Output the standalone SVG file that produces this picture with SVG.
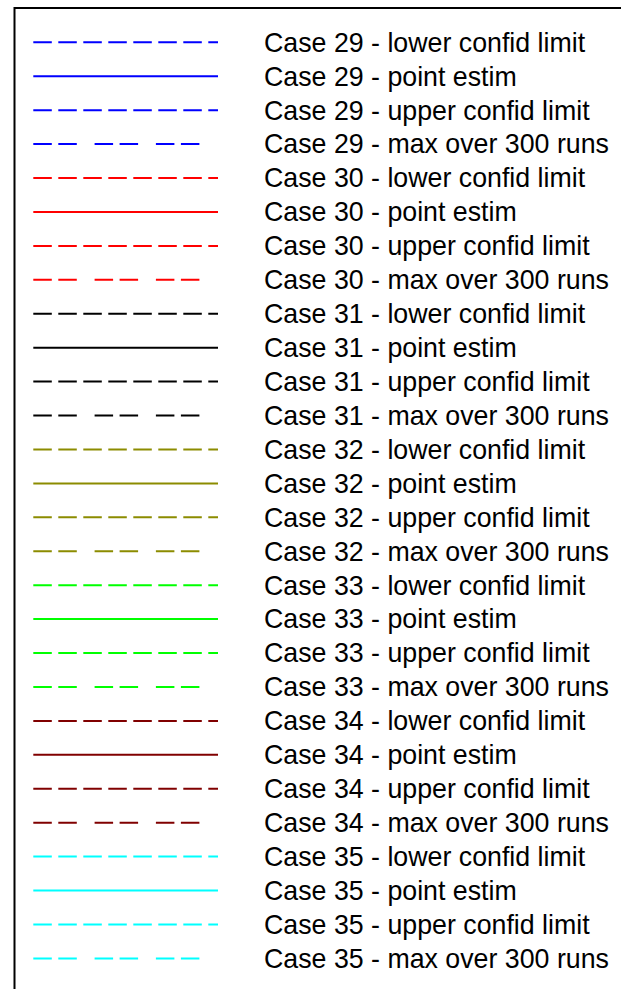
<svg xmlns="http://www.w3.org/2000/svg" width="621" height="989" viewBox="0 0 621 989">
<style>
text{font-family:"Liberation Sans",Arial,sans-serif;font-size:26.75px;fill:#000}
line{stroke-width:2;fill:none}
.ci{stroke-dasharray:18.5 6.5}
.mx{stroke-dasharray:18.5 6.5 18.5 17.8}
.c29{stroke:#0000ff}.c30{stroke:#ff0000}.c31{stroke:#000000}.c32{stroke:#8c8c00}.c33{stroke:#00ff00}.c34{stroke:#800000}.c35{stroke:#00ffff}
</style>
<rect width="621" height="989" fill="#fff"/>
<path id="frame" d="M14.5,989 V8 H621" fill="none" stroke="#000" stroke-width="2"/>
<g id="connectors"></g>
<g id="e29l"><line class="c29 ci" x1="33.3" y1="42.3" x2="218" y2="42.3"/><text x="264" y="51.6">Case 29 - lower confid limit</text></g>
<g id="e29p"><line class="c29" x1="33.3" y1="76.2" x2="218" y2="76.2"/><text x="264" y="85.5">Case 29 - point estim</text></g>
<g id="e29u"><line class="c29 ci" x1="33.3" y1="110.2" x2="218" y2="110.2"/><text x="264" y="119.5">Case 29 - upper confid limit</text></g>
<g id="e29m"><line class="c29 mx" x1="33.3" y1="144.1" x2="216" y2="144.1"/><text x="264" y="153.4">Case 29 - max over 300 runs</text></g>
<g id="e30l"><line class="c30 ci" x1="33.3" y1="178" x2="218" y2="178"/><text x="264" y="187.3">Case 30 - lower confid limit</text></g>
<g id="e30p"><line class="c30" x1="33.3" y1="212" x2="218" y2="212"/><text x="264" y="221.3">Case 30 - point estim</text></g>
<g id="e30u"><line class="c30 ci" x1="33.3" y1="245.9" x2="218" y2="245.9"/><text x="264" y="255.2">Case 30 - upper confid limit</text></g>
<g id="e30m"><line class="c30 mx" x1="33.3" y1="279.8" x2="216" y2="279.8"/><text x="264" y="289.1">Case 30 - max over 300 runs</text></g>
<g id="e31l"><line class="c31 ci" x1="33.3" y1="313.7" x2="218" y2="313.7"/><text x="264" y="323">Case 31 - lower confid limit</text></g>
<g id="e31p"><line class="c31" x1="33.3" y1="347.7" x2="218" y2="347.7"/><text x="264" y="357">Case 31 - point estim</text></g>
<g id="e31u"><line class="c31 ci" x1="33.3" y1="381.6" x2="218" y2="381.6"/><text x="264" y="390.9">Case 31 - upper confid limit</text></g>
<g id="e31m"><line class="c31 mx" x1="33.3" y1="415.5" x2="216" y2="415.5"/><text x="264" y="424.8">Case 31 - max over 300 runs</text></g>
<g id="e32l"><line class="c32 ci" x1="33.3" y1="449.5" x2="218" y2="449.5"/><text x="264" y="458.8">Case 32 - lower confid limit</text></g>
<g id="e32p"><line class="c32" x1="33.3" y1="483.4" x2="218" y2="483.4"/><text x="264" y="492.7">Case 32 - point estim</text></g>
<g id="e32u"><line class="c32 ci" x1="33.3" y1="517.3" x2="218" y2="517.3"/><text x="264" y="526.6">Case 32 - upper confid limit</text></g>
<g id="e32m"><line class="c32 mx" x1="33.3" y1="551.3" x2="216" y2="551.3"/><text x="264" y="560.6">Case 32 - max over 300 runs</text></g>
<g id="e33l"><line class="c33 ci" x1="33.3" y1="585.2" x2="218" y2="585.2"/><text x="264" y="594.5">Case 33 - lower confid limit</text></g>
<g id="e33p"><line class="c33" x1="33.3" y1="619.1" x2="218" y2="619.1"/><text x="264" y="628.4">Case 33 - point estim</text></g>
<g id="e33u"><line class="c33 ci" x1="33.3" y1="653" x2="218" y2="653"/><text x="264" y="662.3">Case 33 - upper confid limit</text></g>
<g id="e33m"><line class="c33 mx" x1="33.3" y1="687" x2="216" y2="687"/><text x="264" y="696.3">Case 33 - max over 300 runs</text></g>
<g id="e34l"><line class="c34 ci" x1="33.3" y1="720.9" x2="218" y2="720.9"/><text x="264" y="730.2">Case 34 - lower confid limit</text></g>
<g id="e34p"><line class="c34" x1="33.3" y1="754.8" x2="218" y2="754.8"/><text x="264" y="764.1">Case 34 - point estim</text></g>
<g id="e34u"><line class="c34 ci" x1="33.3" y1="788.8" x2="218" y2="788.8"/><text x="264" y="798.1">Case 34 - upper confid limit</text></g>
<g id="e34m"><line class="c34 mx" x1="33.3" y1="822.7" x2="216" y2="822.7"/><text x="264" y="832">Case 34 - max over 300 runs</text></g>
<g id="e35l"><line class="c35 ci" x1="33.3" y1="856.6" x2="218" y2="856.6"/><text x="264" y="865.9">Case 35 - lower confid limit</text></g>
<g id="e35p"><line class="c35" x1="33.3" y1="890.6" x2="218" y2="890.6"/><text x="264" y="899.9">Case 35 - point estim</text></g>
<g id="e35u"><line class="c35 ci" x1="33.3" y1="924.5" x2="218" y2="924.5"/><text x="264" y="933.8">Case 35 - upper confid limit</text></g>
<g id="e35m"><line class="c35 mx" x1="33.3" y1="958.4" x2="216" y2="958.4"/><text x="264" y="967.7">Case 35 - max over 300 runs</text></g>
</svg>
